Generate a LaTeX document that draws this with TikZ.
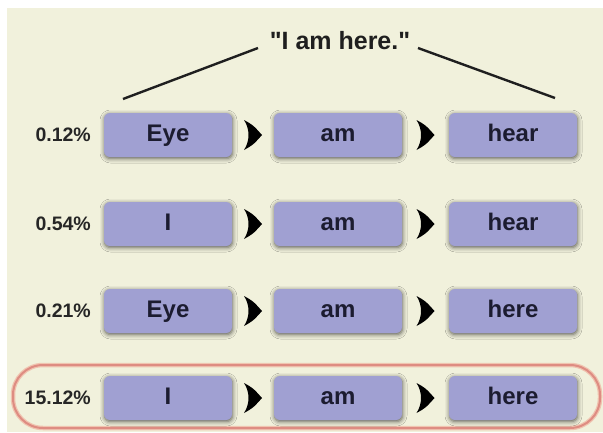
\documentclass[tikz,border=0pt]{standalone}
\usepackage{fontspec}
\setmainfont{Liberation Sans}
% a family without TeX ligature mapping, so " stays a straight quote
\newfontfamily\plainsans{Liberation Sans}
\usetikzlibrary{shadows.blur,calc}

\definecolor{cream}{RGB}{241,241,220}
\definecolor{boxfill}{RGB}{160,160,210}
\definecolor{boxtext}{RGB}{28,28,48}
\definecolor{hilite}{RGB}{222,140,130}
\definecolor{hilitehalo}{RGB}{240,196,176}

\tikzset{
  word/.style={fill=boxfill, rounded corners=6pt, minimum width=128pt,
    minimum height=44pt, inner sep=0pt, text=boxtext,
    text height=17.5pt, text depth=5pt,
    font=\fontsize{24}{28}\selectfont\bfseries,
    blur shadow={shadow xshift=0.5pt, shadow yshift=-1.5pt,
      shadow blur radius=4.5pt, shadow opacity=65}},
  pct/.style={anchor=east, inner sep=0pt, text=black!85,
    font=\fontsize{19.5}{22}\selectfont\bfseries},
  heading/.style={inner sep=0pt, text=black!88,
    font=\plainsans\fontsize{25}{28}\selectfont\bfseries},
  tie/.style={line width=2.4pt, black!88},
  chevron/.pic={
    \fill[black] (-9,-15) .. controls (0,-10) .. (9,0)
      .. controls (0,10) .. (-9,15)
      .. controls (-3,6) and (-3,-6) .. cycle;
  }
}

\begin{document}
\begin{tikzpicture}[x=1pt,y=-1pt]
  \useasboundingbox (0,0) rectangle (603,432);
  \fill[white] (0,0) rectangle (603,432);
  \fill[cream] (7,8) rectangle (603,432);

  % heading and its two ties
  \node[heading] (title) at (340,41) {"I am here."};
  \coordinate (tl) at (258,48);
  \coordinate (tr) at (418,48);
  \coordinate (el) at (123,99);
  \coordinate (er) at (555,98);
  \draw[tie] (tl) -- (el);
  \draw[tie] (tr) -- (er);

  % highlight round the most likely reading
  \node[draw=hilitehalo, line width=4.5pt, rounded corners=30pt,
        minimum width=587pt, minimum height=63pt] (best) at (306.5,396.5) {};
  \node[draw=hilite, line width=2pt, rounded corners=30pt,
        minimum width=587pt, minimum height=63pt] (bestline) at (306.5,396.5) {};

  % rows of word choices
  \foreach \r/\y/\p/\a/\c in {1/135/0.12\%/Eye/hear,
                              2/224/0.54\%/I/hear,
                              3/311/0.21\%/Eye/here,
                              4/398/15.12\%/I/here}{
    \node[pct] (p\r) at (91,\y) {\p};
    \node[word] (w\r a) at (168,\y) {\a};
    \node[word] (w\r b) at (338,\y) {am};
    \node[word] (w\r c) at (513,\y) {\c};
    \coordinate (s\r a) at ($(w\r a.east)!0.5!(w\r b.west)$);
    \coordinate (s\r b) at ($(w\r b.east)!0.5!(w\r c.west)$);
    \pic at (s\r a) {chevron};
    \pic at (s\r b) {chevron};
  }
\end{tikzpicture}
\end{document}
